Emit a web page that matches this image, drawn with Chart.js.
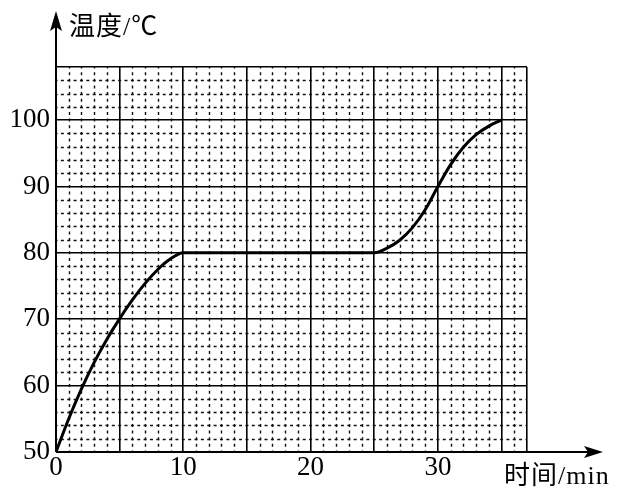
<!DOCTYPE html>
<html>
<head>
<meta charset="utf-8">
<script src="https://cdn.jsdelivr.net/npm/chart.js@4"></script>
<style>
  html, body { margin: 0; padding: 0; background: #fff; }
  #wrap { width: 621px; height: 490px; }
</style>
</head>
<body>
<div id="wrap"><canvas id="heat-chart" width="621" height="490"></canvas></div>
<script>
// time (min) and temperature (°C)
const times = [0, 1, 2, 3, 4, 5, 6, 7, 8, 9, 10, 15, 20, 25, 26, 27, 28, 29, 30, 31, 32, 33, 34, 35];
const temps = [50, 55, 59.5, 63.5, 67, 70.1, 72.9, 75.4, 77.5, 79.1, 80, 80, 80, 80, 80.7, 81.9, 83.8, 86.5, 90, 93.3, 95.9, 97.8, 99.1, 100];
const xTicks = [0, 10, 20, 30];
const yTicks = [50, 60, 70, 80, 90, 100];
const yTitle = '温度/℃';
const xTitle = '时间/min';

const serif = 'Liberation Serif, serif';
Chart.defaults.font.family = serif;

// minor dashed grid + axis arrows + axis titles
const paperGrid = {
  id: 'paperGrid',
  beforeDatasetsDraw(chart) {
    const { ctx, chartArea: a, scales: { x, y } } = chart;
    const colW = x.getPixelForValue(1) - x.getPixelForValue(0);
    const rowH = y.getPixelForValue(50) - y.getPixelForValue(52);
    ctx.save();
    ctx.strokeStyle = '#111';
    ctx.lineWidth = 1.4;
    ctx.setLineDash([3, rowH / 2 - 3]);
    ctx.lineDashOffset = 1.5;
    for (let v = 1; v < x.max; v++) {
      if (v % 5 === 0) continue;
      const px = Math.round(x.getPixelForValue(v)) + 0.5;
      ctx.beginPath(); ctx.moveTo(px, a.bottom); ctx.lineTo(px, a.top); ctx.stroke();
    }
    ctx.setLineDash([3, colW / 2 - 3]);
    ctx.lineDashOffset = 1.5;
    for (let v = 52; v < y.max; v += 2) {
      if ((v - 50) % 10 === 0) continue;
      const py = Math.round(y.getPixelForValue(v)) + 0.5;
      ctx.beginPath(); ctx.moveTo(a.left, py); ctx.lineTo(a.right, py); ctx.stroke();
    }
    ctx.restore();
  },
  afterDraw(chart) {
    const { ctx, chartArea: a } = chart;
    ctx.save();
    ctx.strokeStyle = '#000';
    ctx.fillStyle = '#000';
    ctx.lineWidth = 2;
    // y axis with arrow
    ctx.beginPath(); ctx.moveTo(a.left, a.bottom); ctx.lineTo(a.left, 24); ctx.stroke();
    ctx.beginPath(); ctx.moveTo(a.left, 11); ctx.lineTo(a.left - 6, 31); ctx.lineTo(a.left, 27); ctx.lineTo(a.left + 6, 31); ctx.closePath(); ctx.fill();
    // x axis with arrow
    ctx.beginPath(); ctx.moveTo(a.left, a.bottom); ctx.lineTo(592, a.bottom); ctx.stroke();
    ctx.beginPath(); ctx.moveTo(603, a.bottom); ctx.lineTo(584, a.bottom - 6); ctx.lineTo(588, a.bottom); ctx.lineTo(584, a.bottom + 6); ctx.closePath(); ctx.fill();
    // titles
    ctx.textBaseline = 'middle';
    ctx.textAlign = 'left';
    ctx.font = '26px Liberation Serif, Noto Sans CJK SC, serif';
    ctx.letterSpacing = '1px';
    ctx.fillText(yTitle, 69, 28);
    ctx.fillText(xTitle, 504, 477);
    ctx.restore();
  }
};

new Chart(document.getElementById('heat-chart'), {
  type: 'line',
  data: {
    datasets: [{
      data: times.map((t, i) => ({ x: t, y: temps[i] })),
      borderColor: '#000',
      borderWidth: 3,
      pointRadius: 0,
      fill: false,
      cubicInterpolationMode: 'monotone'
    }]
  },
  options: {
    responsive: false,
    animation: false,
    layout: { padding: { left: 0, top: 67, right: 94, bottom: 0 } },
    plugins: { legend: { display: false }, tooltip: { enabled: false } },
    scales: {
      x: {
        type: 'linear',
        min: 0,
        max: 37,
        afterFit(s) { s.height = 38; },
        afterBuildTicks(s) {
          const t = [];
          for (let v = 0; v <= 35; v += 5) t.push({ value: v });
          t.push({ value: 37 });
          s.ticks = t;
        },
        ticks: {
          autoSkip: false,
          maxRotation: 0,
          padding: 0,
          color: '#000',
          font: { family: serif, size: 27 },
          callback: v => (xTicks.includes(v) ? String(v) : '')
        },
        grid: { color: '#000', lineWidth: 1.6, drawTicks: false },
        border: { display: false }
      },
      y: {
        type: 'linear',
        min: 50,
        max: 108,
        afterFit(s) { s.width = 56; },
        afterBuildTicks(s) {
          const t = yTicks.map(v => ({ value: v }));
          t.push({ value: 108 });
          s.ticks = t;
        },
        ticks: {
          autoSkip: false,
          padding: 6,
          color: '#000',
          font: { family: serif, size: 27 },
          callback: v => (yTicks.includes(v) ? String(v) : '')
        },
        grid: { color: '#000', lineWidth: 1.6, drawTicks: false },
        border: { display: false }
      }
    }
  },
  plugins: [paperGrid]
});
</script>
</body>
</html>
